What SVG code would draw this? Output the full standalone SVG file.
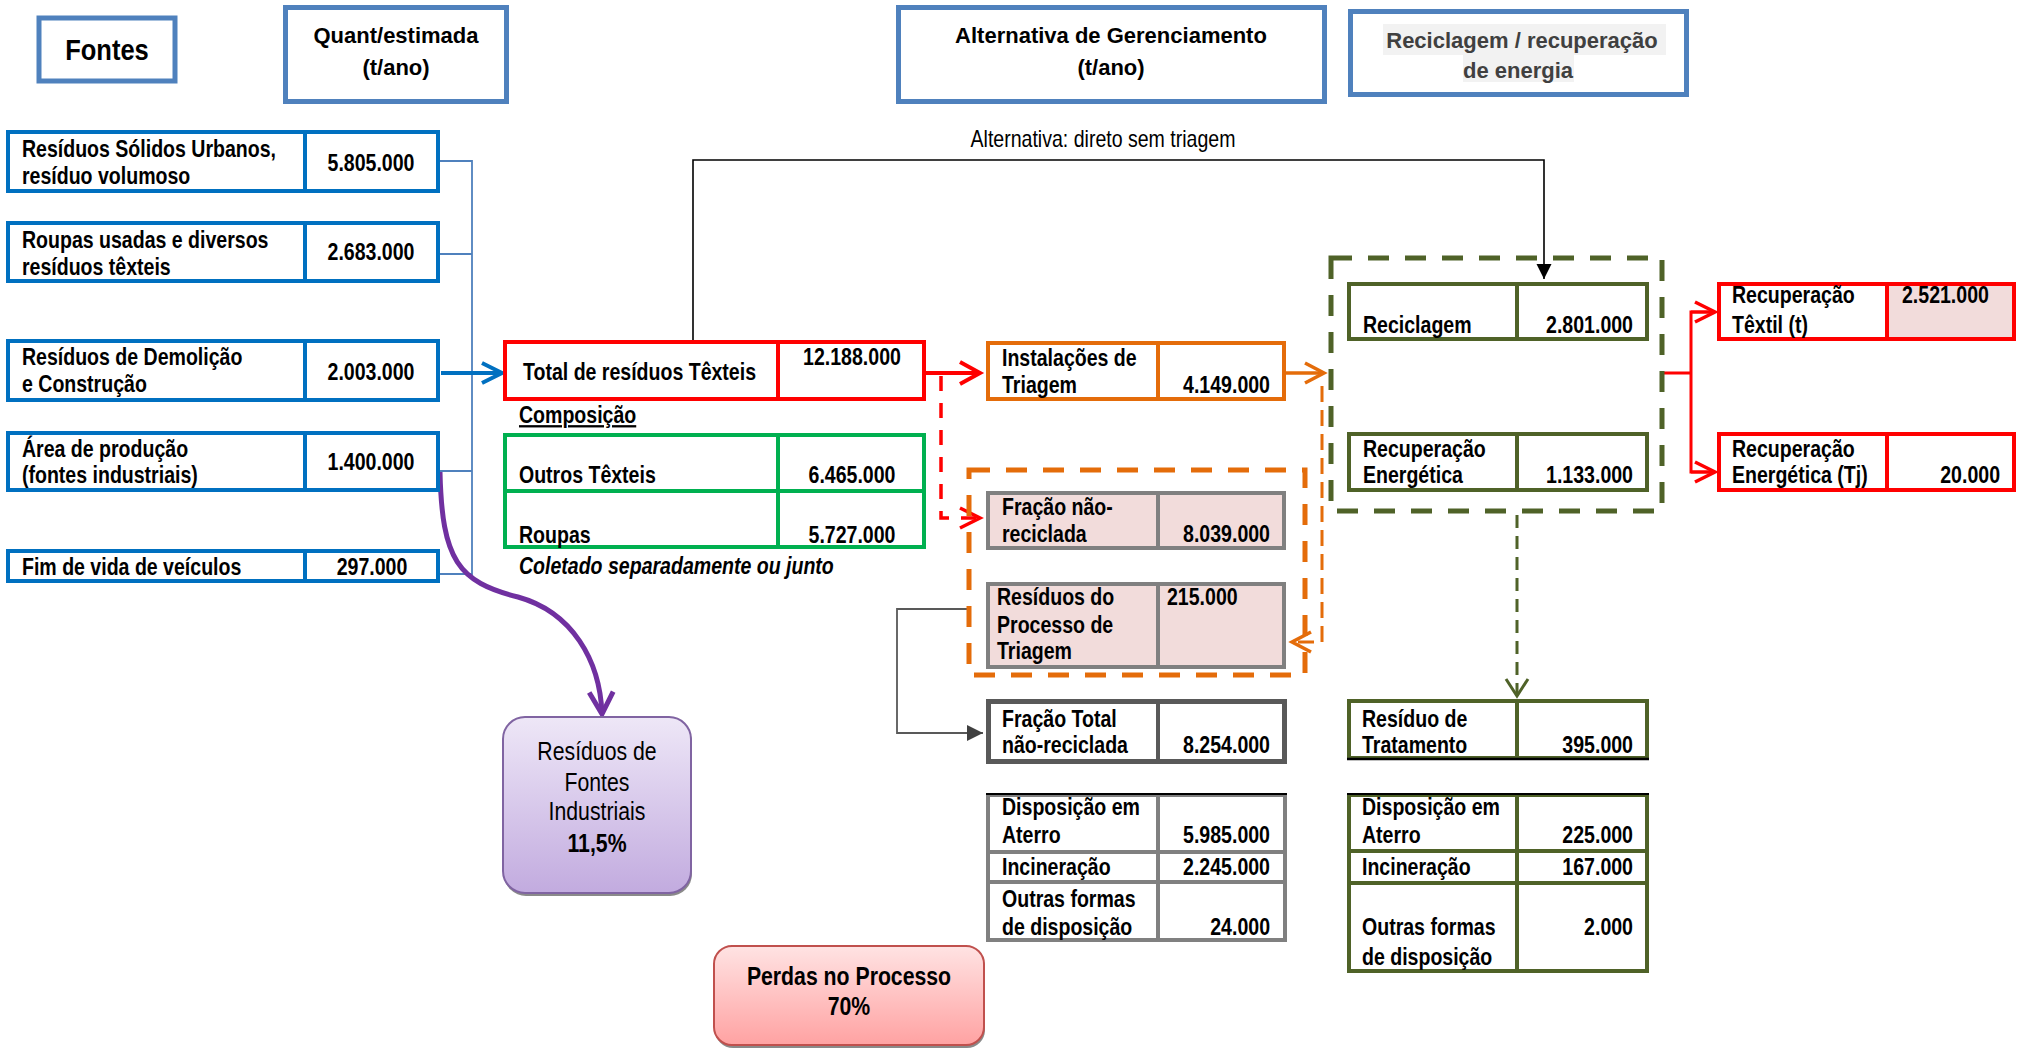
<svg xmlns="http://www.w3.org/2000/svg" width="2027" height="1048" viewBox="0 0 2027 1048">
<defs>
<style>
.hd{fill:none;stroke:#4F81BD;stroke-width:5}
.src{fill:#fff;stroke:#0070C0;stroke-width:4}
.red{fill:#fff;stroke:#FF0000;stroke-width:4}
.grn{fill:#fff;stroke:#00B050;stroke-width:4}
.org{fill:#fff;stroke:#E46C0A;stroke-width:4}
.gry{fill:#F2DCDB;stroke:#808080;stroke-width:4}
.gryw{fill:#fff;stroke:#808080;stroke-width:4}
.olv{fill:#fff;stroke:#4F6228;stroke-width:4}
.h{font-family:"Liberation Sans",Arial,sans-serif;font-weight:bold;font-size:22px;text-anchor:middle;fill:#000}
.t{font-family:"Liberation Sans",Arial,sans-serif;font-weight:bold;font-size:23px;fill:#000;transform-box:fill-box;transform:scaleX(.85);transform-origin:left center}
.c{text-anchor:middle;transform-origin:center}
.r{text-anchor:end;transform-origin:right center}
.n{font-weight:normal}
.i{font-style:italic}
</style>
<linearGradient id="gPur" x1="0" y1="0" x2="0" y2="1"><stop offset="0" stop-color="#EEE7F7"/><stop offset="1" stop-color="#C2ABDF"/></linearGradient>
<linearGradient id="gRed" x1="0" y1="0" x2="0" y2="1"><stop offset="0" stop-color="#FFE3E3"/><stop offset="1" stop-color="#FFA2A2"/></linearGradient>
<marker id="aRed" markerUnits="userSpaceOnUse" overflow="visible" orient="auto" refX="0" refY="0" markerWidth="30" markerHeight="30"><path d="M-20,-11 L0,0 L-20,11" fill="none" stroke="#FF0000" stroke-width="4"/></marker>
<marker id="aRed2" markerUnits="userSpaceOnUse" overflow="visible" orient="auto" refX="0" refY="0" markerWidth="30" markerHeight="30"><path d="M-20,-10 L0,0 L-20,10" fill="none" stroke="#FF0000" stroke-width="3.5"/></marker>
<marker id="aBlue" markerUnits="userSpaceOnUse" overflow="visible" orient="auto" refX="0" refY="0" markerWidth="30" markerHeight="30"><path d="M-20,-10 L0,0 L-20,10" fill="none" stroke="#0070C0" stroke-width="4"/></marker>
<marker id="aOrg" markerUnits="userSpaceOnUse" overflow="visible" orient="auto" refX="0" refY="0" markerWidth="30" markerHeight="30"><path d="M-19,-10 L0,0 L-19,10" fill="none" stroke="#E46C0A" stroke-width="3.5"/></marker>
<marker id="aGrn" markerUnits="userSpaceOnUse" overflow="visible" orient="auto" refX="0" refY="0" markerWidth="30" markerHeight="30"><path d="M-17,-11 L0,0 L-17,11" fill="none" stroke="#4F6228" stroke-width="3"/></marker>
<marker id="aPur" markerUnits="userSpaceOnUse" overflow="visible" orient="auto" refX="0" refY="0" markerWidth="30" markerHeight="30"><path d="M-22,-12 L0,0 L-22,12" fill="none" stroke="#7030A0" stroke-width="5"/></marker>
<marker id="aBlk" markerUnits="userSpaceOnUse" overflow="visible" orient="auto" refX="0" refY="0" markerWidth="20" markerHeight="20"><path d="M-15,-7.5 L0,0 L-15,7.5 Z" fill="#000"/></marker>
<marker id="aGry" markerUnits="userSpaceOnUse" overflow="visible" orient="auto" refX="0" refY="0" markerWidth="20" markerHeight="20"><path d="M-16,-8 L0,0 L-16,8 Z" fill="#404040"/></marker>
</defs>
<rect width="2027" height="1048" fill="#fff"/>

<!-- headers -->
<g id="hdr-fontes"><rect class="hd" x="39" y="18" width="136" height="63"/><text class="t c" x="107" y="60" style="font-size:30px">Fontes</text></g>
<g id="hdr-quant"><rect class="hd" x="285.5" y="7.5" width="221" height="94"/><text class="h" x="396" y="43">Quant/estimada</text><text class="h" x="396" y="75">(t/ano)</text></g>
<g id="hdr-alt"><rect class="hd" x="898.5" y="7.5" width="426" height="94"/><text class="h" x="1111" y="43">Alternativa de Gerenciamento</text><text class="h" x="1111" y="75">(t/ano)</text></g>
<g id="hdr-recic"><rect class="hd" x="1350.5" y="11.5" width="336" height="83"/><rect x="1383" y="24" width="283" height="31" fill="#F2F2F2"/><rect x="1463" y="55" width="111" height="27" fill="#F2F2F2"/><text class="h" x="1522" y="48" style="fill:#404040">Reciclagem / recuperação</text><text class="h" x="1518" y="78" style="fill:#404040">de energia</text></g>

<!-- connectors -->
<g id="connectors" fill="none">
<path d="M440,161 H472 V574 H440 M440,254 H472 M440,471 H472" stroke="#4F81BD" stroke-width="1.8"/>
<path d="M441,373 H502" stroke="#0070C0" stroke-width="4" marker-end="url(#aBlue)"/>
<path d="M693,340 V160 H1544 V279" stroke="#000" stroke-width="1.6" marker-end="url(#aBlk)"/>
<path d="M926,373 H980" stroke="#FF0000" stroke-width="4" marker-end="url(#aRed)"/>
<path d="M941,376 V518 H980" stroke="#FF0000" stroke-width="3.5" stroke-dasharray="15 12" marker-end="url(#aRed2)"/>
<path d="M1286,373 H1324" stroke="#E46C0A" stroke-width="3.5" marker-end="url(#aOrg)"/>
<path d="M1322,386 V642 H1292" stroke="#E46C0A" stroke-width="3" stroke-dasharray="16 8" marker-end="url(#aOrg)"/>
<path d="M1517,515 V696" stroke="#4F6228" stroke-width="3" stroke-dasharray="13 8" marker-end="url(#aGrn)"/>
<path d="M1664,373 H1691 M1691,373 V312 H1714 M1691,373 V472 H1714" stroke="#FF0000" stroke-width="3"/>
<path d="M1691,312 H1715" stroke="#FF0000" stroke-width="3" marker-end="url(#aRed2)"/>
<path d="M1691,472 H1715" stroke="#FF0000" stroke-width="3" marker-end="url(#aRed2)"/>
<path d="M967,609 H897 V733 H983" stroke="#595959" stroke-width="1.8" marker-end="url(#aGry)"/>
<path d="M440,472 C442,560 458,582 518,597 C572,612 600,660 602,714" stroke="#7030A0" stroke-width="5" marker-end="url(#aPur)"/>
</g>

<!-- sources -->
<g id="src-rsu"><rect class="src" x="8" y="132" width="430" height="59"/><line x1="305" y1="132" x2="305" y2="191" stroke="#0070C0" stroke-width="4"/><text class="t" x="22" y="157">Resíduos Sólidos Urbanos,</text><text class="t" x="22" y="184">resíduo volumoso</text><text class="t c" x="371" y="171">5.805.000</text></g>
<g id="src-roupas"><rect class="src" x="8" y="223" width="430" height="58"/><line x1="305" y1="223" x2="305" y2="281" stroke="#0070C0" stroke-width="4"/><text class="t" x="22" y="248">Roupas usadas e diversos</text><text class="t" x="22" y="275">resíduos têxteis</text><text class="t c" x="371" y="260">2.683.000</text></g>
<g id="src-rdc"><rect class="src" x="8" y="341" width="430" height="59"/><line x1="305" y1="341" x2="305" y2="400" stroke="#0070C0" stroke-width="4"/><text class="t" x="22" y="365">Resíduos de Demolição</text><text class="t" x="22" y="392">e Construção</text><text class="t c" x="371" y="380">2.003.000</text></g>
<g id="src-area"><rect class="src" x="8" y="433" width="430" height="57"/><line x1="305" y1="433" x2="305" y2="490" stroke="#0070C0" stroke-width="4"/><text class="t" x="22" y="457">Área de produção</text><text class="t" x="22" y="483">(fontes industriais)</text><text class="t c" x="371" y="470">1.400.000</text></g>
<g id="src-fim"><rect class="src" x="8" y="551" width="430" height="30"/><line x1="305" y1="551" x2="305" y2="581" stroke="#0070C0" stroke-width="4"/><text class="t" x="22" y="575">Fim de vida de veículos</text><text class="t c" x="372" y="575">297.000</text></g>

<!-- total -->
<g id="total"><rect class="red" x="505" y="342" width="419" height="57"/><line x1="778" y1="342" x2="778" y2="399" stroke="#FF0000" stroke-width="4"/><text class="t" x="523" y="380">Total de resíduos Têxteis</text><text class="t c" x="852" y="365">12.188.000</text></g>
<g id="composicao"><text class="t" x="519" y="423" style="text-decoration:underline">Composição</text><rect class="grn" x="505" y="435" width="419" height="112"/><line x1="505" y1="491" x2="924" y2="491" stroke="#00B050" stroke-width="4"/><line x1="778" y1="435" x2="778" y2="547" stroke="#00B050" stroke-width="4"/><text class="t" x="519" y="483">Outros Têxteis</text><text class="t c" x="852" y="483">6.465.000</text><text class="t" x="519" y="543">Roupas</text><text class="t c" x="852" y="543">5.727.000</text><text class="t i" x="519" y="574">Coletado separadamente ou junto</text></g>

<text id="lbl-alt" class="t c n" x="1103" y="147">Alternativa: direto sem triagem</text>

<!-- sorting -->
<g id="triagem"><rect class="org" x="988" y="343" width="296" height="56"/><line x1="1158" y1="343" x2="1158" y2="399" stroke="#E46C0A" stroke-width="4"/><text class="t" x="1002" y="366">Instalações de</text><text class="t" x="1002" y="393">Triagem</text><text class="t r" x="1270" y="393">4.149.000</text></g>
<g id="grupo-triagem"><rect x="969" y="470" width="336" height="205" fill="none" stroke="#E46C0A" stroke-width="5" stroke-dasharray="21 16"/></g>
<g id="fracao-nao"><rect class="gry" x="988" y="493" width="296" height="55"/><line x1="1158" y1="493" x2="1158" y2="548" stroke="#808080" stroke-width="4"/><text class="t" x="1002" y="515">Fração não-</text><text class="t" x="1002" y="542">reciclada</text><text class="t r" x="1270" y="542">8.039.000</text></g>
<g id="residuos-processo"><rect class="gry" x="988" y="584" width="296" height="83"/><line x1="1158" y1="584" x2="1158" y2="667" stroke="#808080" stroke-width="4"/><text class="t" x="997" y="605">Resíduos do</text><text class="t" x="997" y="633">Processo de</text><text class="t" x="997" y="659">Triagem</text><text class="t" x="1167" y="605">215.000</text></g>
<g id="fracao-total"><rect x="988.5" y="701.5" width="296" height="60" fill="#fff" stroke="#595959" stroke-width="5"/><line x1="1158" y1="701" x2="1158" y2="762" stroke="#595959" stroke-width="4"/><text class="t" x="1002" y="727">Fração Total</text><text class="t" x="1002" y="753">não-reciclada</text><text class="t r" x="1270" y="753">8.254.000</text></g>
<g id="disp-cinza"><rect class="gryw" x="988" y="795" width="297" height="145"/><path d="M988,852 H1285 M988,882 H1285 M1158,795 V940" stroke="#808080" stroke-width="4"/><line x1="986" y1="794" x2="1287" y2="794" stroke="#000" stroke-width="2"/><text class="t" x="1002" y="815">Disposição em</text><text class="t" x="1002" y="843">Aterro</text><text class="t r" x="1270" y="843">5.985.000</text><text class="t" x="1002" y="875">Incineração</text><text class="t r" x="1270" y="875">2.245.000</text><text class="t" x="1002" y="907">Outras formas</text><text class="t" x="1002" y="935">de disposição</text><text class="t r" x="1270" y="935">24.000</text></g>

<!-- recycling -->
<g id="grupo-recic"><rect x="1331" y="258" width="331" height="253" fill="none" stroke="#4F6228" stroke-width="5" stroke-dasharray="21 16"/></g>
<g id="reciclagem"><rect class="olv" x="1349" y="284" width="298" height="55"/><line x1="1517" y1="284" x2="1517" y2="339" stroke="#4F6228" stroke-width="4"/><text class="t" x="1363" y="333">Reciclagem</text><text class="t r" x="1633" y="333">2.801.000</text></g>
<g id="recup-energ"><rect class="olv" x="1349" y="434" width="298" height="56"/><line x1="1517" y1="434" x2="1517" y2="490" stroke="#4F6228" stroke-width="4"/><text class="t" x="1363" y="457">Recuperação</text><text class="t" x="1363" y="483">Energética</text><text class="t r" x="1633" y="483">1.133.000</text></g>
<g id="residuo-trat"><rect class="olv" x="1349" y="701" width="298" height="57"/><line x1="1517" y1="701" x2="1517" y2="758" stroke="#4F6228" stroke-width="4"/><line x1="1347" y1="759" x2="1649" y2="759" stroke="#000" stroke-width="2.5"/><text class="t" x="1362" y="727">Resíduo de</text><text class="t" x="1362" y="753">Tratamento</text><text class="t r" x="1633" y="753">395.000</text></g>
<g id="disp-verde"><rect class="olv" x="1349" y="795" width="298" height="176"/><path d="M1349,851 H1647 M1349,883 H1647 M1517,795 V971" stroke="#4F6228" stroke-width="4"/><line x1="1347" y1="794" x2="1649" y2="794" stroke="#000" stroke-width="2"/><text class="t" x="1362" y="815">Disposição em</text><text class="t" x="1362" y="843">Aterro</text><text class="t r" x="1633" y="843">225.000</text><text class="t" x="1362" y="875">Incineração</text><text class="t r" x="1633" y="875">167.000</text><text class="t" x="1362" y="935">Outras formas</text><text class="t" x="1362" y="965">de disposição</text><text class="t r" x="1633" y="935">2.000</text></g>

<g id="recup-textil"><rect class="red" x="1719" y="284" width="295" height="55"/><rect x="1889" y="286" width="123" height="51" fill="#F2DCDB"/><line x1="1887" y1="284" x2="1887" y2="339" stroke="#FF0000" stroke-width="4"/><text class="t" x="1732" y="303">Recuperação</text><text class="t" x="1732" y="333">Têxtil (t)</text><text class="t" x="1902" y="303">2.521.000</text></g>
<g id="recup-tj"><rect class="red" x="1719" y="434" width="295" height="56"/><line x1="1887" y1="434" x2="1887" y2="490" stroke="#FF0000" stroke-width="4"/><text class="t" x="1732" y="457">Recuperação</text><text class="t" x="1732" y="483">Energética (Tj)</text><text class="t r" x="2000" y="483">20.000</text></g>

<!-- callouts -->
<g id="fontes-industriais"><rect x="504" y="720" width="188" height="176" rx="22" fill="#8a8a8a"/><rect x="503" y="717" width="188" height="176" rx="22" fill="url(#gPur)" stroke="#8064A2" stroke-width="2"/><text class="t c n" x="597" y="760" style="font-size:25px">Resíduos de</text><text class="t c n" x="597" y="791" style="font-size:25px">Fontes</text><text class="t c n" x="597" y="820" style="font-size:25px">Industriais</text><text class="t c" x="597" y="852" style="font-size:25px">11,5%</text></g>
<g id="perdas"><rect x="715" y="949" width="270" height="99" rx="18" fill="#8a8a8a"/><rect x="714" y="946" width="270" height="99" rx="18" fill="url(#gRed)" stroke="#C0504D" stroke-width="2"/><text class="t c" x="849" y="985" style="font-size:25px">Perdas no Processo</text><text class="t c" x="849" y="1015" style="font-size:25px">70%</text></g>
</svg>
